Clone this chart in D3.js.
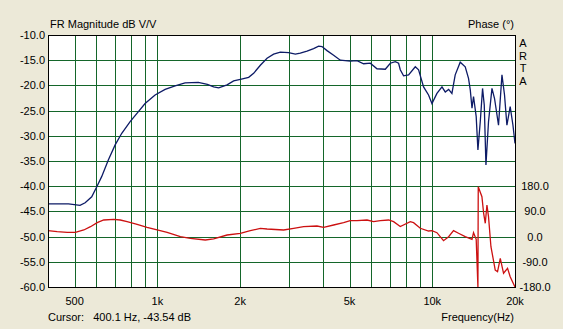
<!DOCTYPE html>
<html>
<head>
<meta charset="utf-8">
<script src="https://cdn.jsdelivr.net/npm/d3@7"></script>
<style>
  body { margin: 0; background: #ece9d8; }
  svg text { font-family: "Liberation Sans", Arial, sans-serif; font-size: 11px; fill: #000; }
</style>
</head>
<body>
<svg id="chart" width="563" height="329"></svg>
<script>
// magnitude response, dB V/V
const magFreq = [401, 475, 523, 546, 577, 602, 627, 663, 702, 742, 796, 853, 902, 981, 1067, 1160, 1261, 1409, 1520,
    1602, 1671, 1793, 1894, 2004, 2148, 2240, 2369, 2506, 2648, 2801, 3002, 3176, 3311, 3502, 3701, 3860, 3971,
    4141, 4377, 4629, 5031, 5324, 5627, 5951, 6294, 6748, 7036, 7337, 7543, 7650, 7864, 8201, 8675, 8918, 9299,
    9694, 9975, 10400, 10850, 11150, 11470, 11790, 12120, 12640, 13180, 13550, 13750, 13950, 14130, 14450, 14660,
    14950, 15240, 15460, 15680, 16020, 16490, 16850, 17420, 17930, 18320, 18690, 19210, 19660, 20000]
const magDb = [-43.5, -43.5, -43.8, -43.3, -42.1, -40.1, -38.1, -34.8, -31.8, -29.5, -27.2, -25.2, -23.6, -21.9, -20.8,
    -20.1, -19.5, -19.4, -19.8, -20.3, -20.5, -19.9, -19.1, -18.8, -18.4, -17.6, -16.0, -14.6, -13.8, -13.4, -13.5,
    -13.8, -13.6, -13.2, -12.7, -12.2, -12.3, -13.1, -14.0, -15.0, -15.2, -15.1, -15.7, -15.6, -16.7, -16.8, -15.6,
    -15.3, -15.6, -16.9, -18.1, -17.9, -16.3, -16.9, -20.3, -21.9, -23.6, -21.6, -20.3, -21.3, -20.8, -21.6, -17.9,
    -15.4, -16.3, -18.6, -20.9, -24.5, -22.2, -26.2, -32.8, -27.2, -20.6, -23.9, -35.8, -27.2, -20.6, -22.6, -27.9,
    -17.9, -21.9, -27.9, -24.2, -27.9, -31.5]

// phase, degrees
const phFreq = [400, 432, 470, 503, 540, 571, 604, 638, 694, 733, 776, 844, 917, 998, 1085, 1212, 1318, 1494, 1602,
    1793, 2004, 2178, 2369, 2506, 2879, 3131, 3404, 3808, 4025, 4377, 4759, 5031, 5324, 5789, 6117, 6472, 6937,
    7233, 7650, 8318, 8551, 9045, 9694, 9975, 10400, 10990, 11470, 11950, 12460, 13180, 13950, 14130, 14450,
    14660, 14700, 15160, 15380, 15590, 15810, 16020, 16350, 16950, 17280, 17680, 18170, 18790, 19210, 20000]
const phDeg = [21, 17.5, 15.4, 15.4, 23.6, 35.4, 49.7, 59.3, 61.8, 59.3, 53.2, 43.9, 33.2, 23.6, 15.4, -0.3, -6,
    -12.1, -8.5, 5.7, 11.8, 21.1, 29.7, 27.2, 23.6, 29.7, 35.4, 37.9, 33.2, 41.4, 49.7, 56.8, 56.8, 59.3, 53.2,
    56.8, 59.3, 53.2, 36.1, 53.2, 49.7, 29.7, 20, 21.1, 14, -14.6, -0.3, 21.1, 11.8, -0.3, -9.6, 14, -9.6,
    -180, 178, 142.5, 83.2, 47.5, 112.9, 71.1, -36, -119.3, -125.3, -77.5, -131, -113.2, -143.2, -180]

const dbTicks = [-10, -15, -20, -25, -30, -35, -40, -45, -50, -55, -60]
const phaseTicks = [180, 90, 0, -90, -180]
const freqGrid = [500, 600, 700, 800, 900, 1000, 2000, 3000, 4000, 5000, 6000, 7000, 8000, 9000, 10000]
const freqLabels = [[500, "500"], [1000, "1k"], [2000, "2k"], [5000, "5k"], [10000, "10k"], [20000, "20k"]]

const svg = d3.select("#chart")
const plotL = 48, plotR = 515, plotT = 35, plotB = 287

const x = d3.scaleLog().domain([400, 20000]).range([plotL, plotR])
const y = d3.scaleLinear().domain([-60, -10]).range([plotB, plotT])
const yPh = d3.scaleLinear().domain([-180, 180]).range([y(-60), y(-40)])

const px = v => Math.round(v) + 0.5

svg.append("rect")
    .attr("x", plotL).attr("y", plotT)
    .attr("width", plotR - plotL).attr("height", plotB - plotT)
    .attr("fill", "#fff")

// grid
const grid = svg.append("g")
    .attr("stroke", "#14662a")
    .attr("stroke-width", 1)
    .attr("shape-rendering", "crispEdges")
grid.selectAll(".vg")
    .data(freqGrid)
    .join("line")
        .attr("x1", d => px(x(d))).attr("x2", d => px(x(d)))
        .attr("y1", plotT).attr("y2", plotB)
grid.selectAll(".hg")
    .data(dbTicks.slice(1, -1))
    .join("line")
        .attr("y1", d => px(y(d))).attr("y2", d => px(y(d)))
        .attr("x1", plotL).attr("x2", plotR)

// curves
const magLine = d3.line()
    .x(d => x(d[0]))
    .y(d => y(d[1]))
const phLine = d3.line()
    .x(d => x(d[0]))
    .y(d => yPh(d[1]))

svg.append("path")
    .datum(d3.zip(phFreq, phDeg))
    .attr("fill", "none")
    .attr("stroke", "#cc1111")
    .attr("stroke-width", 1.3)
    .attr("d", phLine)

svg.append("path")
    .datum(d3.zip(magFreq, magDb))
    .attr("fill", "none")
    .attr("stroke", "#0d1b66")
    .attr("stroke-width", 1.3)
    .attr("d", magLine)

// frame
svg.append("rect")
    .attr("x", plotL + 0.5).attr("y", plotT + 0.5)
    .attr("width", plotR - plotL).attr("height", plotB - plotT)
    .attr("fill", "none")
    .attr("stroke", "#000")
    .attr("shape-rendering", "crispEdges")

// labels
svg.append("g")
    .selectAll("text")
    .data(dbTicks)
    .join("text")
        .attr("x", 45)
        .attr("y", d => y(d) + 4)
        .attr("text-anchor", "end")
        .text(d => d.toFixed(1))

svg.append("g")
    .selectAll("text")
    .data(phaseTicks)
    .join("text")
        .attr("x", 535)
        .attr("y", d => yPh(d) + 4)
        .attr("text-anchor", "middle")
        .text(d => d.toFixed(1))

svg.append("g")
    .selectAll("text")
    .data(freqLabels)
    .join("text")
        .attr("x", d => x(d[0]))
        .attr("y", 305)
        .attr("text-anchor", "middle")
        .text(d => d[1])

svg.append("text").attr("x", 50).attr("y", 28).text("FR Magnitude dB V/V")
svg.append("text").attr("x", 514).attr("y", 28).attr("text-anchor", "end").text("Phase (°)")

svg.append("g")
    .selectAll("text")
    .data(["A", "R", "T", "A"])
    .join("text")
        .attr("x", 523)
        .attr("y", (d, i) => 47 + i * 12.7)
        .attr("text-anchor", "middle")
        .text(d => d)

svg.append("text").attr("x", 48).attr("y", 321)
    .style("white-space", "pre")
    .text("Cursor:   400.1 Hz, -43.54 dB")
svg.append("text").attr("x", 514).attr("y", 321).attr("text-anchor", "end").text("Frequency(Hz)")
</script>
</body>
</html>
